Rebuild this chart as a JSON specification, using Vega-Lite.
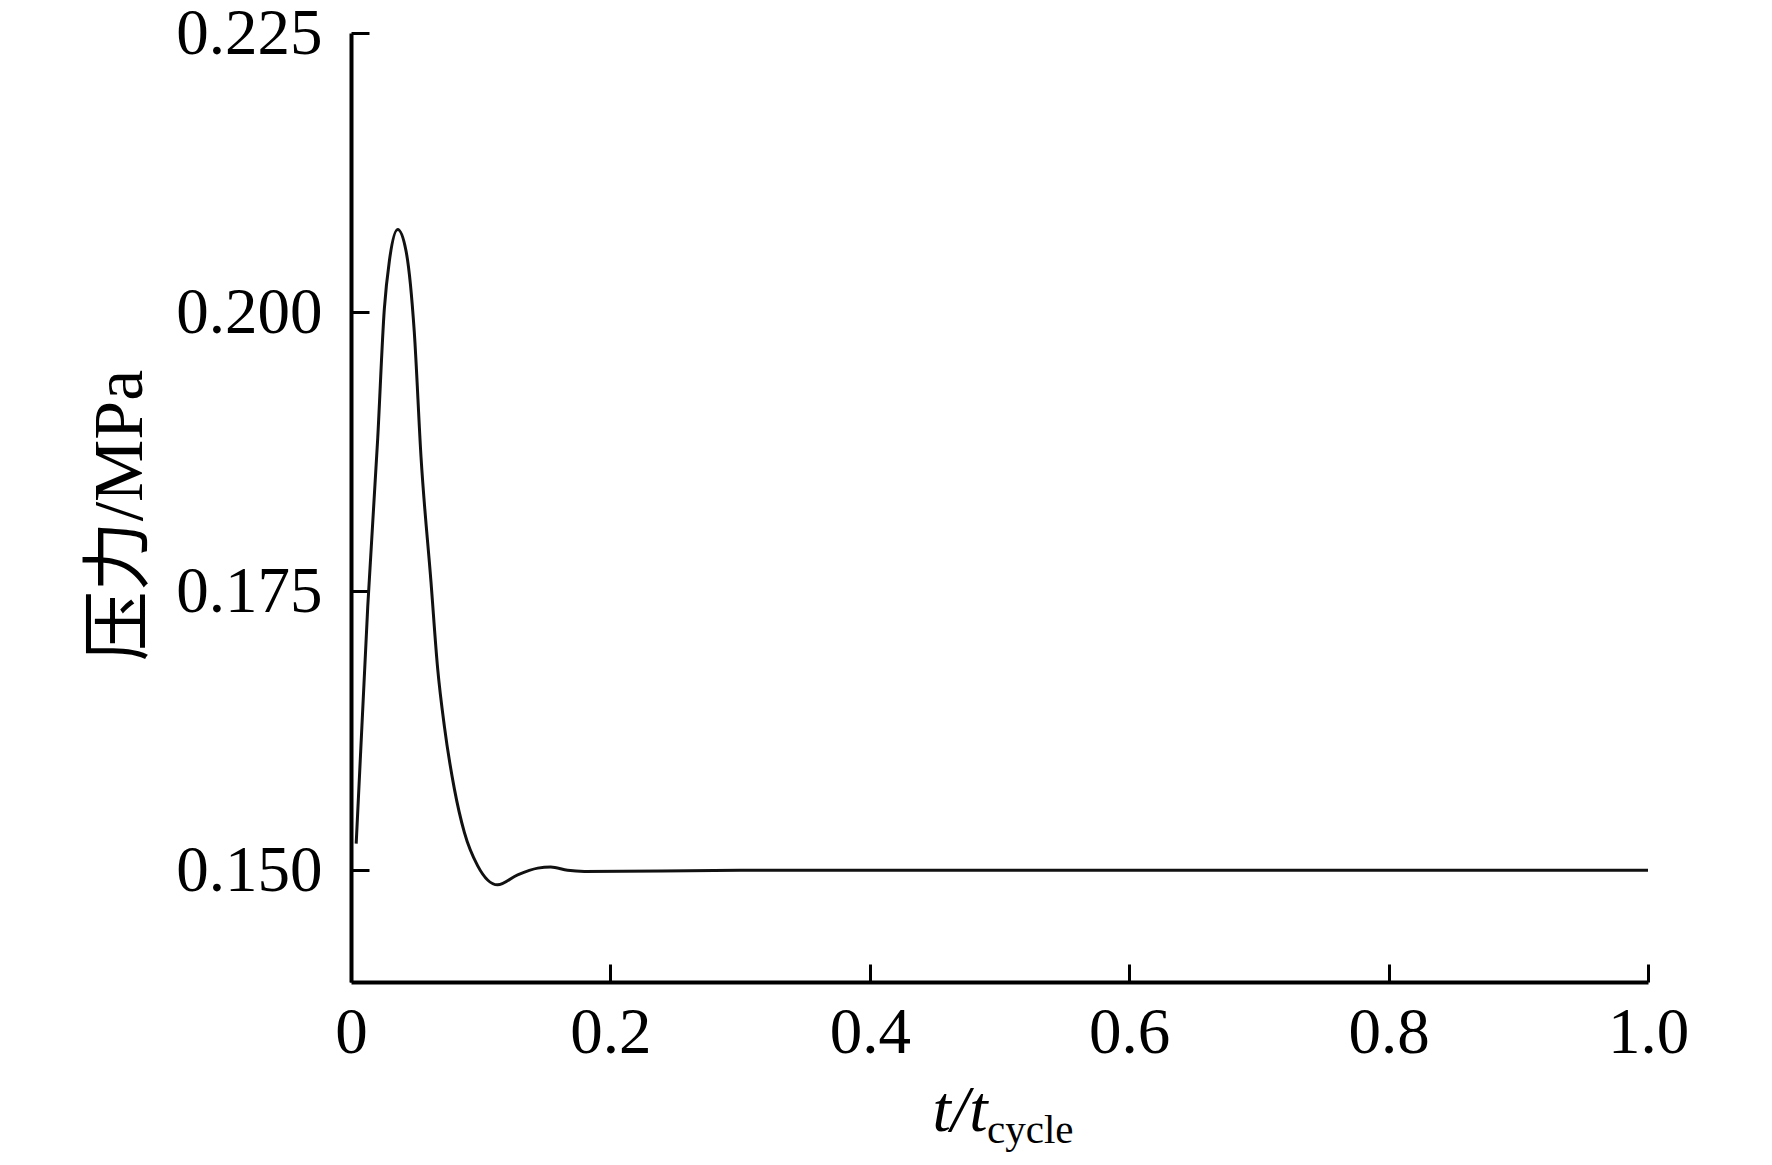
{
  "$schema": "https://vega.github.io/schema/vega-lite/v6.json",
  "width": 1297,
  "height": 949,
  "autosize": {"type": "none"},
  "padding": {"left": 351, "top": 33, "right": 124, "bottom": 183},
  "background": "white",
  "config": {
    "view": {"stroke": null},
    "font": "Liberation Serif"
  },
  "title": {
    "text": "cycle",
    "orient": "bottom",
    "anchor": "start",
    "frame": "group",
    "dx": 636,
    "offset": 0,
    "baseline": "alphabetic",
    "font": "Liberation Serif",
    "fontSize": 41,
    "fontWeight": "normal",
    "color": "black"
  },
  "data": {
    "values": [
      {"t": 0.004, "p": 0.1524},
      {"t": 0.0129, "p": 0.1736},
      {"t": 0.0206, "p": 0.1887},
      {"t": 0.0257, "p": 0.2003},
      {"t": 0.0296, "p": 0.2046},
      {"t": 0.036, "p": 0.2074},
      {"t": 0.0424, "p": 0.2055},
      {"t": 0.0488, "p": 0.1982},
      {"t": 0.054, "p": 0.187},
      {"t": 0.0617, "p": 0.1758},
      {"t": 0.0668, "p": 0.1681},
      {"t": 0.072, "p": 0.1629},
      {"t": 0.0797, "p": 0.1573},
      {"t": 0.0874, "p": 0.1534},
      {"t": 0.0977, "p": 0.1504},
      {"t": 0.113, "p": 0.1487},
      {"t": 0.1285, "p": 0.1496},
      {"t": 0.144, "p": 0.1502},
      {"t": 0.154, "p": 0.1503},
      {"t": 0.167, "p": 0.15},
      {"t": 0.18, "p": 0.1499},
      {"t": 0.3, "p": 0.15},
      {"t": 1.0, "p": 0.15}
    ]
  },
  "mark": {"type": "line", "color": "#111111", "strokeWidth": 3, "interpolate": "monotone"},
  "encoding": {
    "x": {
      "field": "t",
      "type": "quantitative",
      "scale": {"domain": [0, 1], "nice": false, "zero": false},
      "axis": {
        "values": [0, 0.2, 0.4, 0.6, 0.8, 1.0],
        "labelExpr": "datum.value == 0 ? '0' : format(datum.value, '.1f')",
        "grid": false,
        "domainColor": "black",
        "domainWidth": 4,
        "tickColor": "black",
        "tickWidth": 3,
        "tickSize": -18,
        "labelFont": "Liberation Serif",
        "labelFontSize": 65,
        "labelColor": "black",
        "labelPadding": 37,
        "labelFlush": false,
        "title": "t/t",
        "titleFont": "Liberation Serif",
        "titleFontStyle": "italic",
        "titleFontWeight": "normal",
        "titleFontSize": 66,
        "titleColor": "black",
        "titleAlign": "right",
        "titleBaseline": "alphabetic",
        "titleX": 636,
        "titleY": 148
      }
    },
    "y": {
      "field": "p",
      "type": "quantitative",
      "scale": {"domain": [0.14, 0.225], "nice": false, "zero": false},
      "axis": {
        "values": [0.15, 0.175, 0.2, 0.225],
        "format": ".3f",
        "grid": false,
        "domainColor": "black",
        "domainWidth": 4,
        "tickColor": "black",
        "tickWidth": 3,
        "tickSize": -18,
        "labelFont": "Liberation Serif",
        "labelFontSize": 65,
        "labelColor": "black",
        "labelPadding": 47,
        "labelFlush": false,
        "title": "压力/MPa",
        "titleFont": "Liberation Serif, Noto Sans CJK SC",
        "titleFontWeight": "normal",
        "titleFontSize": 70,
        "titleColor": "black",
        "titleAngle": -90,
        "titleAlign": "center",
        "titleBaseline": "middle",
        "titleX": -231,
        "titleY": 482
      }
    }
  }
}
